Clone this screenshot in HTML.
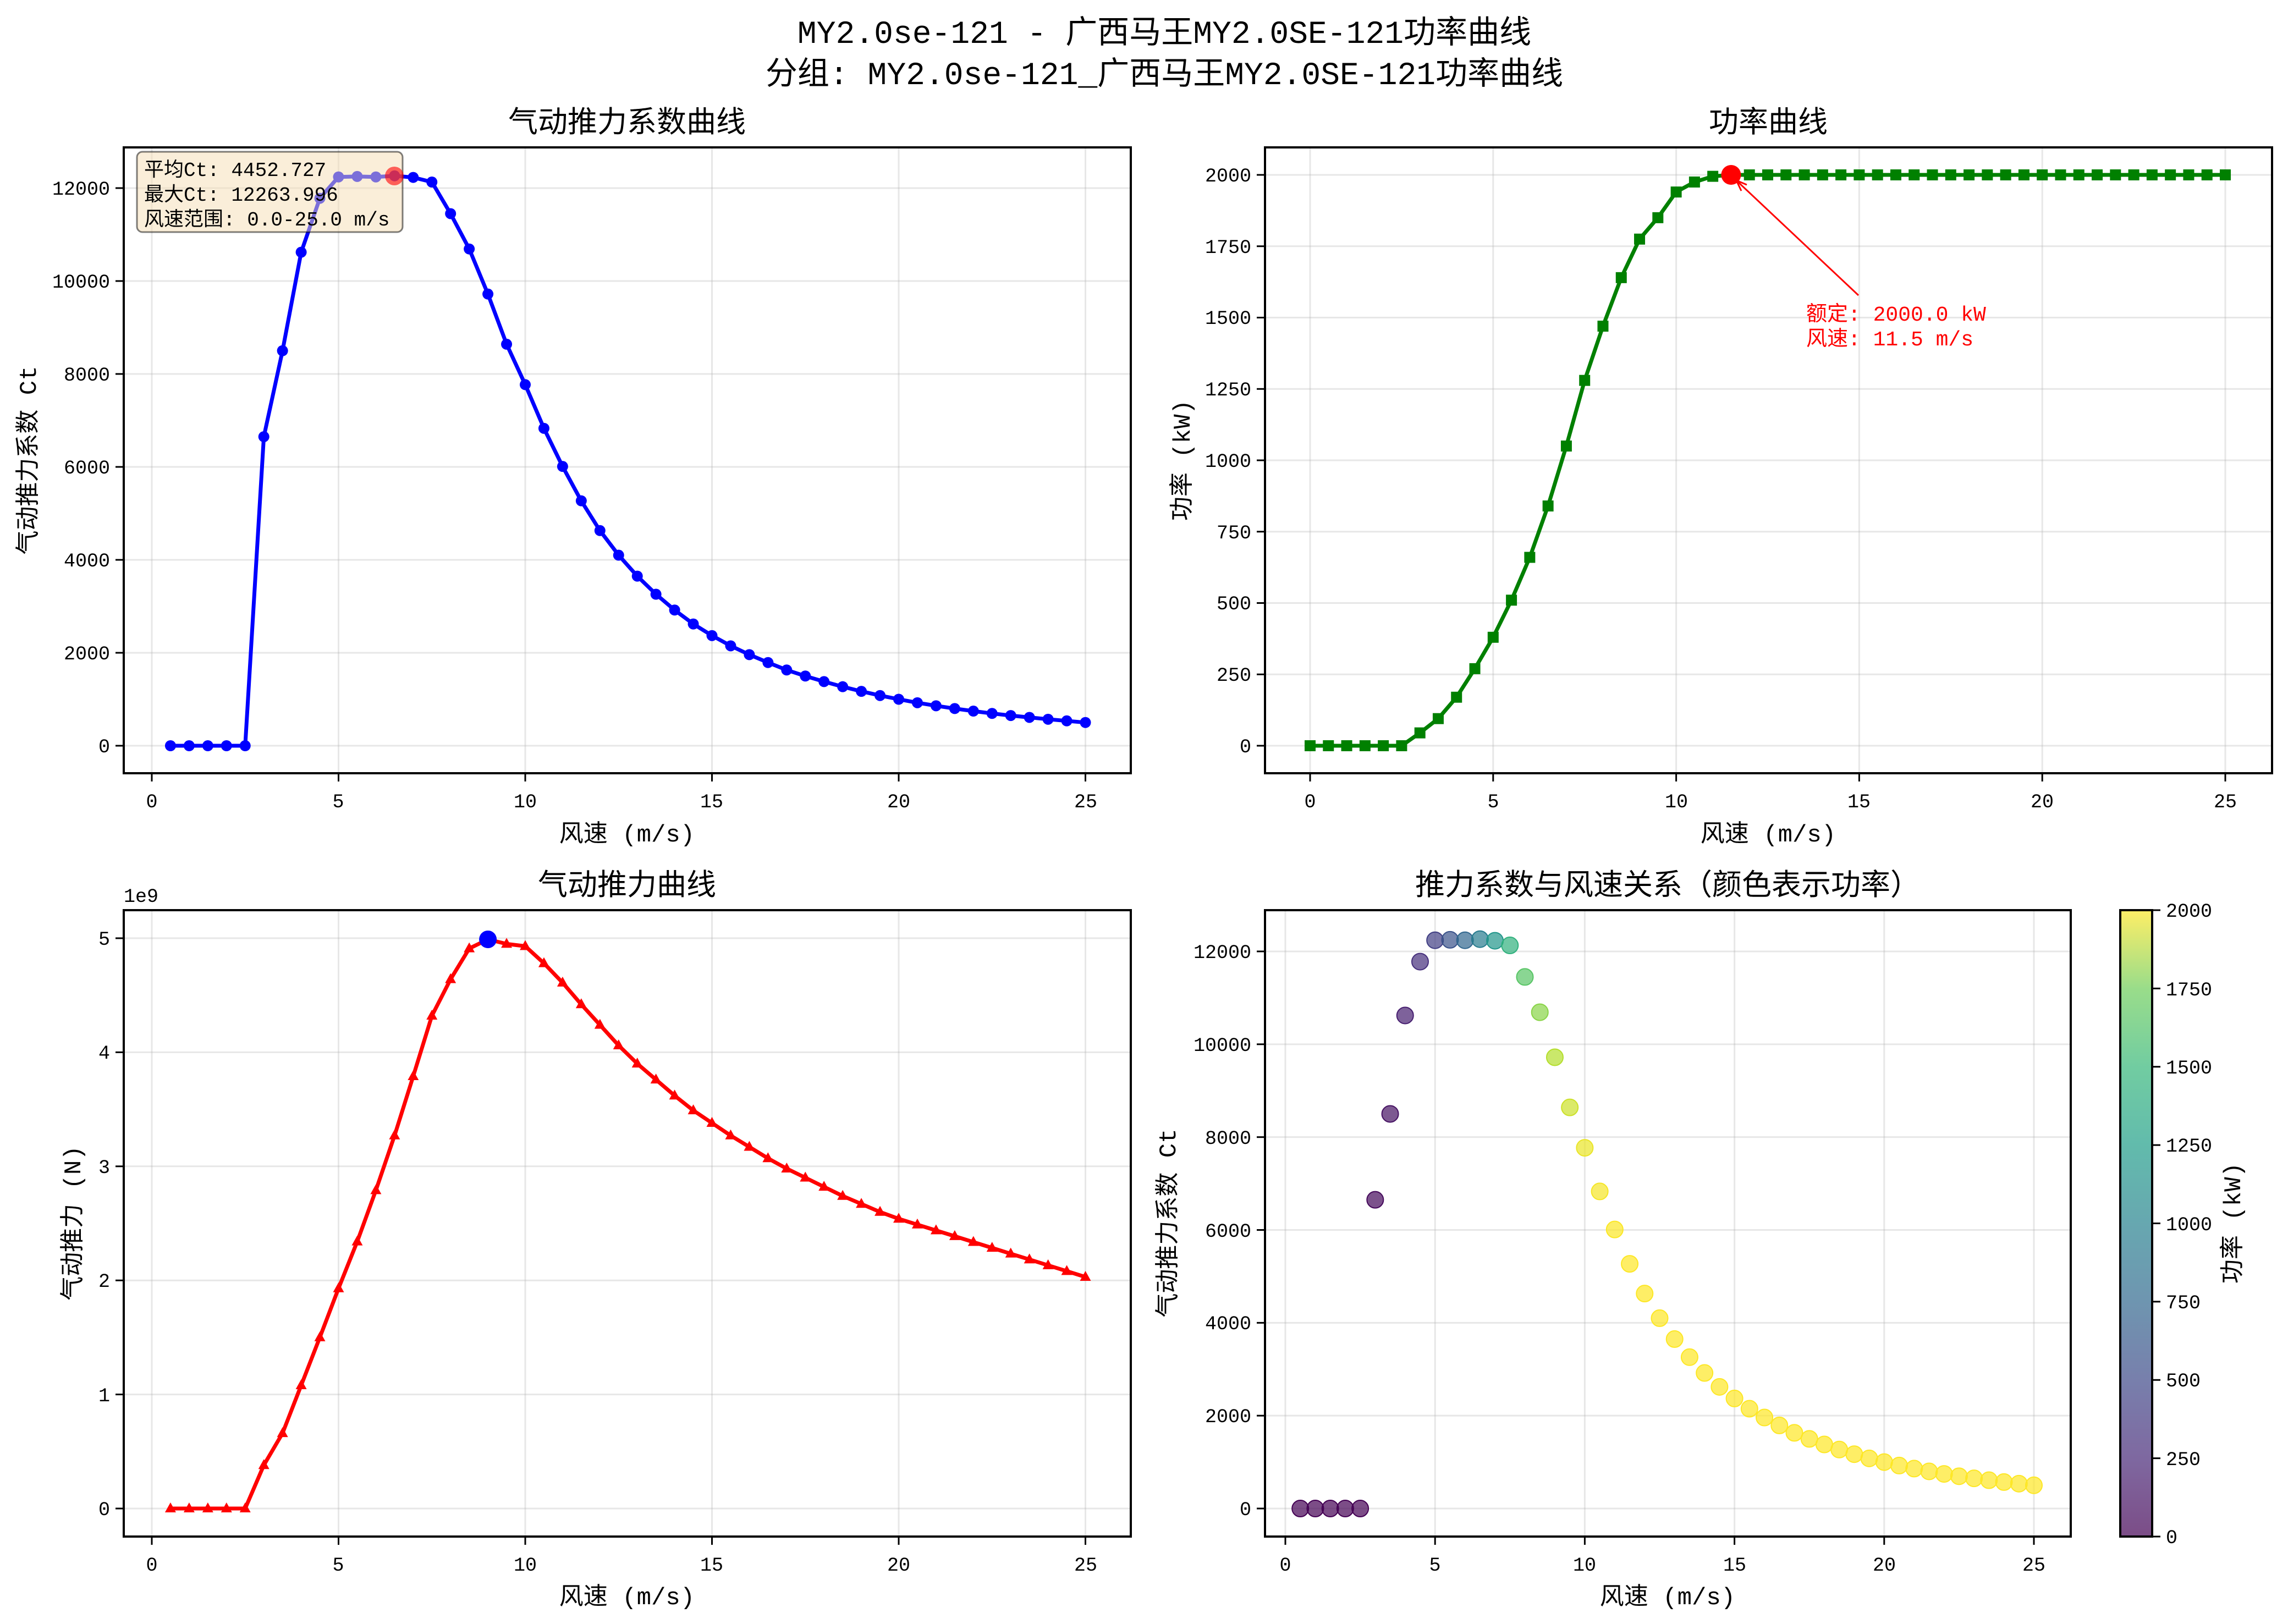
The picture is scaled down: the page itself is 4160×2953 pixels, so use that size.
<!DOCTYPE html>
<html><head><meta charset="utf-8"><style>
html,body{margin:0;padding:0;background:#fff}
svg{display:block}
text{font-family:"Liberation Mono","Noto Sans CJK SC",monospace;fill:#000}
.t{font-size:35px}
.ttl{font-size:54px;text-anchor:middle}
.lbl{font-size:44px;text-anchor:middle}
.yl{font-size:35px;text-anchor:end}
.xl{font-size:35px;text-anchor:middle}
</style></head><body>
<svg id="s" width="4160" height="2953" viewBox="0 0 4160 2953" xmlns="http://www.w3.org/2000/svg">
<defs>
<linearGradient id="vir" x1="0" y1="1" x2="0" y2="0">
<stop offset="0" stop-color="#440154"/><stop offset="0.125" stop-color="#482878"/><stop offset="0.25" stop-color="#3e4989"/><stop offset="0.375" stop-color="#31688e"/><stop offset="0.5" stop-color="#26828e"/><stop offset="0.625" stop-color="#1f9e89"/><stop offset="0.75" stop-color="#35b779"/><stop offset="0.875" stop-color="#6ece58"/><stop offset="1" stop-color="#fde725"/>
</linearGradient>
</defs>
<g id="g"></g>
<text x="2117" y="78" style="font-size:58px;text-anchor:middle">MY2.0se-121 - 广西马王MY2.0SE-121功率曲线</text>
<text x="2117" y="153" style="font-size:58px;text-anchor:middle">分组: MY2.0se-121_广西马王MY2.0SE-121功率曲线</text>
<text class="ttl" x="1140" y="240">气动推力系数曲线</text>
<text class="ttl" x="3215" y="240">功率曲线</text>
<text class="ttl" x="1140" y="1627">气动推力曲线</text>
<text class="ttl" x="3032" y="1627">推力系数与风速关系（颜色表示功率）</text>
<text class="lbl" x="1140" y="1530">风速 (m/s)</text>
<text class="lbl" x="3215" y="1530">风速 (m/s)</text>
<text class="lbl" x="1140" y="2917">风速 (m/s)</text>
<text class="lbl" x="3032" y="2917">风速 (m/s)</text>
<text class="lbl" transform="translate(65,837) rotate(-90)">气动推力系数 Ct</text>
<text class="lbl" transform="translate(2163,837) rotate(-90)">功率 (kW)</text>
<text class="lbl" transform="translate(146,2224) rotate(-90)">气动推力 (N)</text>
<text class="lbl" transform="translate(2137,2224) rotate(-90)">气动推力系数 Ct</text>
<text class="lbl" transform="translate(4073,2224) rotate(-90)">功率 (kW)</text>
<text class="xl" x="276" y="1468">0</text><text class="xl" x="615" y="1468">5</text><text class="xl" x="955" y="1468">10</text><text class="xl" x="1294" y="1468">15</text><text class="xl" x="1634" y="1468">20</text><text class="xl" x="1974" y="1468">25</text>
<text class="yl" x="200" y="1368">0</text><text class="yl" x="200" y="1199">2000</text><text class="yl" x="200" y="1030">4000</text><text class="yl" x="200" y="861">6000</text><text class="yl" x="200" y="692">8000</text><text class="yl" x="200" y="523">10000</text><text class="yl" x="200" y="354">12000</text>
<text class="xl" x="2382" y="1468">0</text><text class="xl" x="2715" y="1468">5</text><text class="xl" x="3048" y="1468">10</text><text class="xl" x="3380" y="1468">15</text><text class="xl" x="3713" y="1468">20</text><text class="xl" x="4046" y="1468">25</text>
<text class="yl" x="2275" y="1368">0</text><text class="yl" x="2275" y="1238">250</text><text class="yl" x="2275" y="1108">500</text><text class="yl" x="2275" y="979">750</text><text class="yl" x="2275" y="849">1000</text><text class="yl" x="2275" y="719">1250</text><text class="yl" x="2275" y="589">1500</text><text class="yl" x="2275" y="460">1750</text><text class="yl" x="2275" y="330">2000</text>
<text class="xl" x="276" y="2856">0</text><text class="xl" x="615" y="2856">5</text><text class="xl" x="955" y="2856">10</text><text class="xl" x="1294" y="2856">15</text><text class="xl" x="1634" y="2856">20</text><text class="xl" x="1974" y="2856">25</text>
<text class="yl" x="200" y="2755">0</text><text class="yl" x="200" y="2548">1</text><text class="yl" x="200" y="2340">2</text><text class="yl" x="200" y="2133">3</text><text class="yl" x="200" y="1925">4</text><text class="yl" x="200" y="1718">5</text>
<text class="t" x="225" y="1640">1e9</text>
<text class="xl" x="2337" y="2856">0</text><text class="xl" x="2609" y="2856">5</text><text class="xl" x="2881" y="2856">10</text><text class="xl" x="3154" y="2856">15</text><text class="xl" x="3426" y="2856">20</text><text class="xl" x="3698" y="2856">25</text>
<text class="yl" x="2275" y="2755">0</text><text class="yl" x="2275" y="2586">2000</text><text class="yl" x="2275" y="2417">4000</text><text class="yl" x="2275" y="2249">6000</text><text class="yl" x="2275" y="2080">8000</text><text class="yl" x="2275" y="1911">10000</text><text class="yl" x="2275" y="1742">12000</text>
<g class="t">
<text x="3938" y="2806">0</text><text x="3938" y="2664">250</text><text x="3938" y="2521">500</text><text x="3938" y="2379">750</text><text x="3938" y="2237">1000</text><text x="3938" y="2094">1250</text><text x="3938" y="1952">1500</text><text x="3938" y="1810">1750</text><text x="3938" y="1667">2000</text>
</g>
<rect x="249" y="276" width="483" height="146" rx="10" fill="#f5deb3" fill-opacity="0.5" stroke="#000" stroke-opacity="0.5" stroke-width="3"/>
<text x="262" y="320" style="font-size:36px">平均Ct: 4452.727</text>
<text x="262" y="365" style="font-size:36px">最大Ct: 12263.996</text>
<text x="262" y="410" style="font-size:36px">风速范围: 0.0-25.0 m/s</text>
<circle cx="717" cy="320" r="17" fill="#ff0000" fill-opacity="0.6"/>
<text x="3284" y="583" style="font-size:38px;fill:#f00">额定: 2000.0 kW</text>
<text x="3284" y="628" style="font-size:38px;fill:#f00">风速: 11.5 m/s</text>
</svg>
<script>
var NS="http://www.w3.org/2000/svg",G=document.getElementById('g');
function el(t,a,p){var e=document.createElementNS(NS,t);for(var k in a)e.setAttribute(k,a[k]);(p||G).appendChild(e);return e;}
var ct=[0,0,0,0,0,6650,8500,10620,11780,12240,12250,12240,12264,12230,12130,11450,10690,9720,8640,7770,6830,6010,5270,4630,4100,3650,3260,2920,2620,2370,2150,1960,1790,1630,1500,1380,1270,1170,1080,1000,925,860,800,745,695,650,610,570,535,500];
var ws=[];for(var i=0;i<50;i++)ws.push(0.5+i*0.5);
var pw=[0,0,0,0,0,0,45,95,170,270,380,510,660,840,1050,1280,1470,1640,1775,1850,1940,1975,1995,2000];
while(pw.length<51)pw.push(2000);
var th=[0,0,0,0,0,0.38,0.66,1.08,1.5,1.93,2.34,2.79,3.27,3.79,4.32,4.64,4.91,4.99,4.95,4.93,4.78,4.61,4.42,4.24,4.06,3.90,3.76,3.62,3.49,3.38,3.27,3.17,3.07,2.98,2.90,2.82,2.74,2.67,2.60,2.54];
while(th.length<50){th.push(th[th.length-1]-0.051);}
var panels=[
 {L:225,R:2056,T:268,B:1406,xm:function(x){return 276+x*67.9},ym:function(y){return 1356-y*1014/12000},xt:[0,5,10,15,20,25],yt:[0,2000,4000,6000,8000,10000,12000]},
 {L:2300,R:4131,T:268,B:1406,xm:function(x){return 2382+x*66.56},ym:function(y){return 1356-y*0.519},xt:[0,5,10,15,20,25],yt:[0,250,500,750,1000,1250,1500,1750,2000]},
 {L:225,R:2056,T:1655,B:2794,xm:function(x){return 276+x*67.9},ym:function(y){return 2743-y*207.4},xt:[0,5,10,15,20,25],yt:[0,1,2,3,4,5]},
 {L:2300,R:3765,T:1655,B:2794,xm:function(x){return 2337+x*54.44},ym:function(y){return 2743-y*1013/12000},xt:[0,5,10,15,20,25],yt:[0,2000,4000,6000,8000,10000,12000]}];
panels.forEach(function(p){
 p.xt.forEach(function(t){var x=p.xm(t);el('line',{x1:x,x2:x,y1:p.T,y2:p.B,stroke:'#b0b0b0','stroke-opacity':0.3,'stroke-width':3});el('line',{x1:x,x2:x,y1:p.B,y2:p.B+15,stroke:'#000','stroke-width':3});});
 p.yt.forEach(function(t){var y=p.ym(t);el('line',{x1:p.L,x2:p.R,y1:y,y2:y,stroke:'#b0b0b0','stroke-opacity':0.3,'stroke-width':3});el('line',{x1:p.L-15,x2:p.L,y1:y,y2:y,stroke:'#000','stroke-width':3});});
});
function poly(p,xs,ys,c){var s='';for(var i=0;i<xs.length;i++)s+=p.xm(xs[i]).toFixed(1)+','+p.ym(ys[i]).toFixed(1)+' ';el('polyline',{points:s,fill:'none',stroke:c,'stroke-width':7,'stroke-linejoin':'round'});}
var p=panels[0];poly(p,ws,ct,'#0000ff');
ws.forEach(function(x,i){el('circle',{cx:p.xm(x),cy:p.ym(ct[i]),r:10,fill:'#0000ff'});});
p=panels[1];var w2=[];for(i=0;i<51;i++)w2.push(i*0.5);poly(p,w2,pw,'#008000');
w2.forEach(function(x,i){el('rect',{x:p.xm(x)-10,y:p.ym(pw[i])-10,width:20,height:20,fill:'#008000'});});
el('circle',{cx:p.xm(11.5),cy:p.ym(2000),r:18,fill:'#ff0000'});
el('line',{x1:3379,y1:537,x2:3157,y2:328,stroke:'#f00','stroke-width':3});
el('polyline',{points:'3166,347 3157,328 3176,336',fill:'none',stroke:'#f00','stroke-width':3});
p=panels[2];poly(p,ws,th,'#ff0000');
ws.forEach(function(x,i){var X=p.xm(x),Y=p.ym(th[i]);el('polygon',{points:(X)+','+(Y-11)+' '+(X-10)+','+(Y+7)+' '+(X+10)+','+(Y+7),fill:'#ff0000'});});
el('circle',{cx:p.xm(9),cy:p.ym(4.99),r:16,fill:'#0000ff'});
var V=[[68,1,84],[72,40,120],[62,73,137],[49,104,142],[38,130,142],[31,158,137],[53,183,121],[110,206,88],[181,222,43],[253,231,37]];
function vir(t){t=Math.max(0,Math.min(1,t))*9;var i=Math.min(8,Math.floor(t)),f=t-i;var a=V[i],b=V[i+1];return 'rgb('+[0,1,2].map(function(k){return Math.round(a[k]+(b[k]-a[k])*f)}).join(',')+')';}
p=panels[3];
ws.forEach(function(x,i){var c=vir(pw[i+1]/2000);el('circle',{cx:p.xm(x),cy:p.ym(ct[i]),r:15,fill:c,'fill-opacity':0.7,stroke:c,'stroke-width':2});});
panels.forEach(function(p){el('rect',{x:p.L,y:p.T,width:p.R-p.L,height:p.B-p.T,fill:'none',stroke:'#000','stroke-width':4});});
el('rect',{x:3855,y:1655,width:58,height:1139,fill:'url(#vir)','fill-opacity':0.7});
el('rect',{x:3855,y:1655,width:58,height:1139,fill:'none',stroke:'#000','stroke-width':4});
for(i=0;i<=8;i++){var y=2794-i*142.375;el('line',{x1:3913,x2:3928,y1:y,y2:y,stroke:'#000','stroke-width':3});}
</script>
</body></html>
